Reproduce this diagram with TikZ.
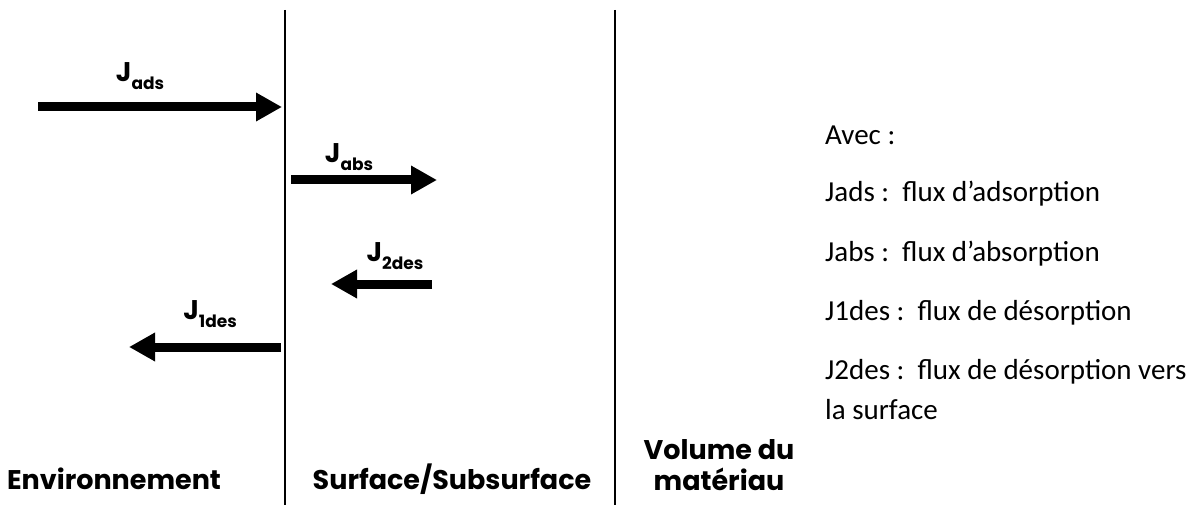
\documentclass[tikz,border=0pt]{standalone}
\usepackage{fontspec}
\setmainfont{Carlito}
\newfontfamily\comicfont{Poppins}
\usetikzlibrary{arrows.meta}
\newcommand{\Jsub}[1]{J\raisebox{-0.3em}{\fontsize{17}{17}\selectfont #1}}
\tikzset{
  wall/.style={line width=2.6pt, black},
  flux/.style={line width=9pt, -{Triangle[length=26pt,width=27pt]}},
  jlab/.style={font=\comicfont\bfseries\fontsize{27}{30}\selectfont, inner sep=0pt},
  zone/.style={font=\comicfont\bfseries\fontsize{27}{31}\selectfont, inner sep=0pt, anchor=base},
  legend/.style={font=\fontsize{29}{33}\selectfont, anchor=west, inner sep=0pt}
}
\begin{document}
\begin{tikzpicture}[x=1pt,y=-1pt]
\useasboundingbox (0,0) rectangle (1201,505);
% walls
\coordinate (w1t) at (285,10); \coordinate (w1b) at (285,505);
\coordinate (w2t) at (615,10); \coordinate (w2b) at (615,505);
\draw[wall] (w1t) -- (w1b);
\draw[wall] (w2t) -- (w2b);
% arrows
\coordinate (ads0) at (38,107); \coordinate (ads1) at (282,107);
\coordinate (abs0) at (291,180); \coordinate (abs1) at (437,180);
\coordinate (d20) at (432,284); \coordinate (d21) at (331,284);
\coordinate (d10) at (281,347); \coordinate (d11) at (129,347);
\draw[flux] (ads0) -- (ads1);
\draw[flux] (abs0) -- (abs1);
\draw[flux] (d20) -- (d21);
\draw[flux] (d10) -- (d11);
% labels
\node[jlab] (lads) at (140,76) {\Jsub{ads}};
\node[jlab] (labs) at (349,157) {\Jsub{abs}};
\node[jlab] (ld2) at (395,256) {\Jsub{2des}};
\node[jlab] (ld1) at (210,314) {\Jsub{1des}};
% zones
\node[zone] (env) at (114,489) {Environnement};
\node[zone] (surf) at (452,489) {Surface/Subsurface};
\node[zone] (vol1) at (719,459) {Volume du};
\node[zone] (vol2) at (719,490) {matériau};
% legend
\node[legend] (l0) at (825,135) {Avec :};
\node[legend] (l1) at (825,194) {Jads :\ \ flux d’adsorption};
\node[legend] (l2) at (825,254) {Jabs :\ \ flux d’absorption};
\node[legend] (l3) at (825,313) {J1des :\ \ flux de désorption};
\node[legend] (l4) at (825,372) {J2des :\ \ flux de désorption vers};
\node[legend] (l5) at (825,410) {la surface};
\end{tikzpicture}
\end{document}
